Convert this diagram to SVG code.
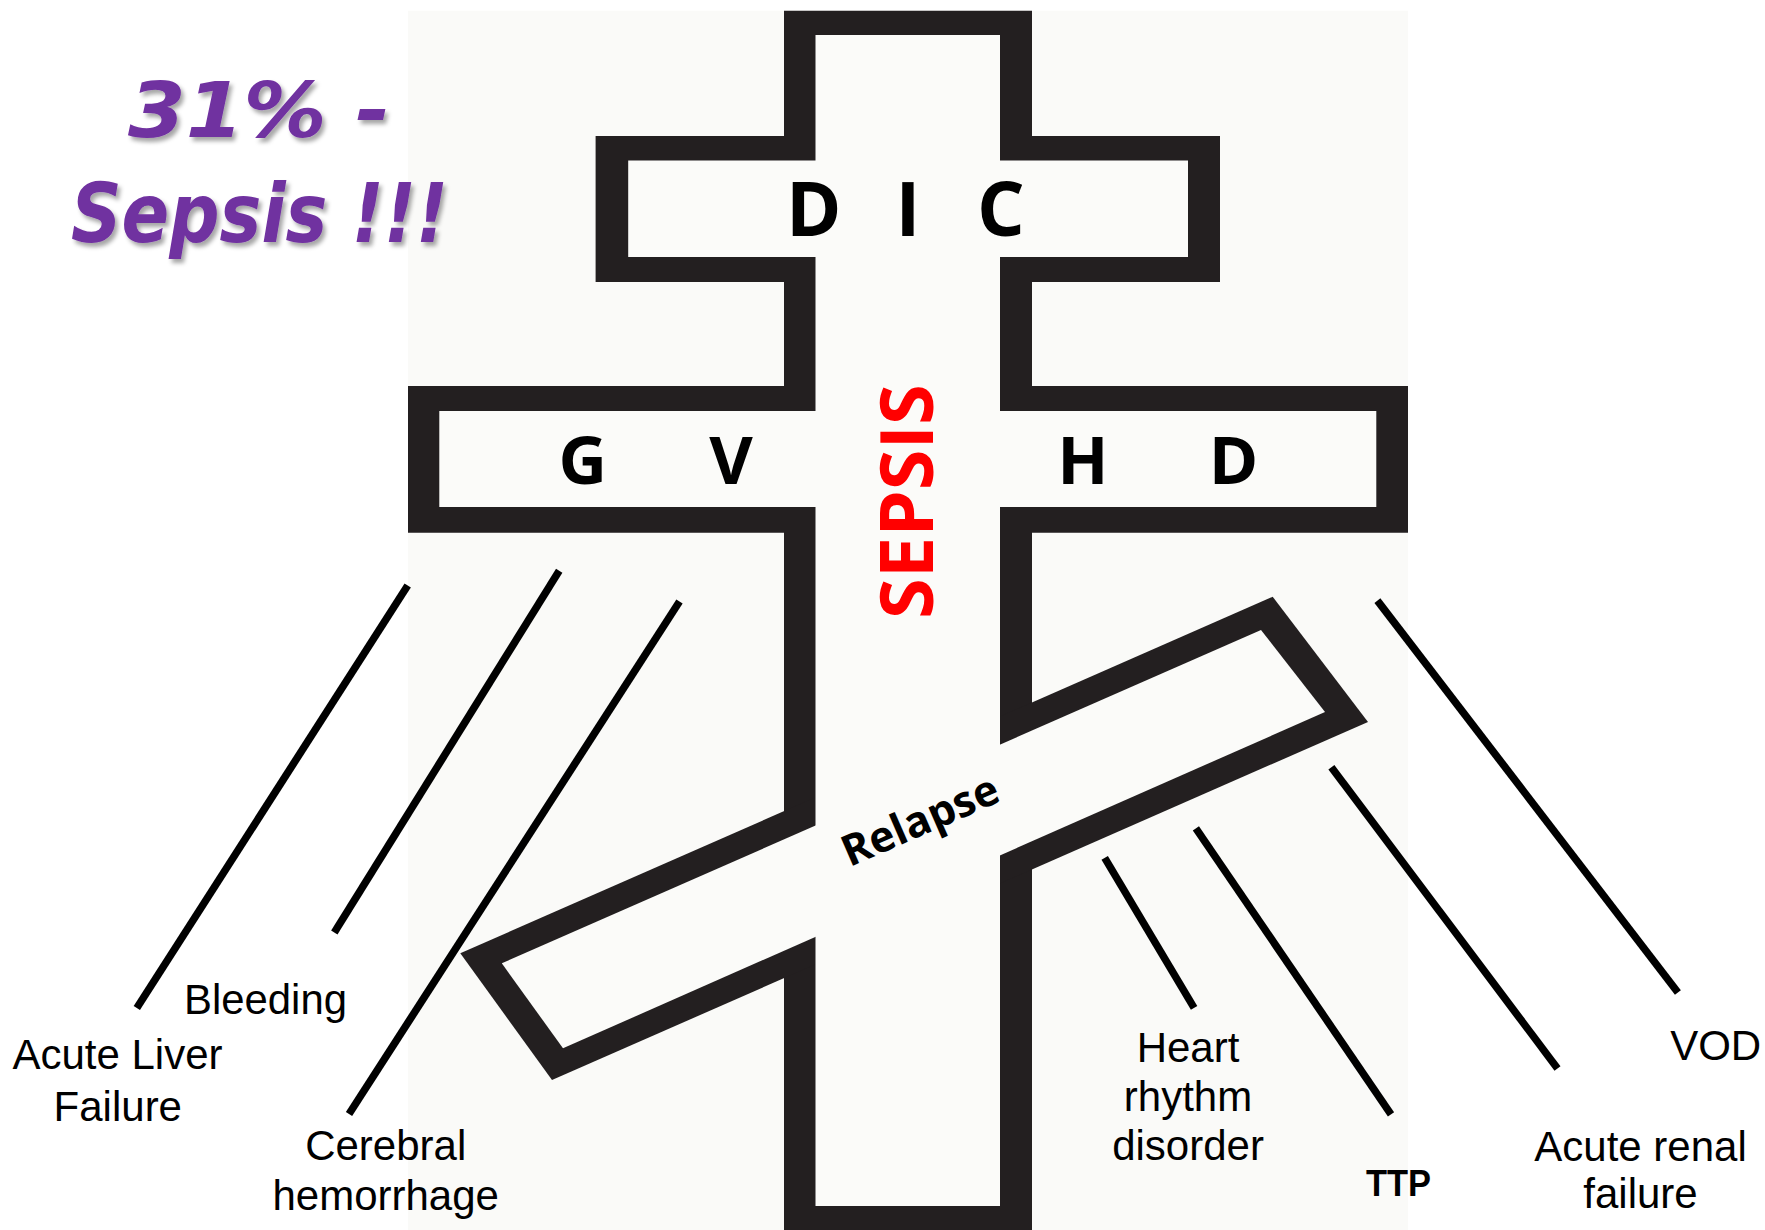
<svg xmlns="http://www.w3.org/2000/svg" width="1765" height="1230" viewBox="0 0 1765 1230">
  <style>
    .band { fill: #231f20; }
    .hollow { fill: #fbfbf9; }
    .big { font-family: "Open Sans", "Liberation Sans", sans-serif; font-weight: bold; fill: #000; text-anchor: middle; }
    .lbl { font-family: "Liberation Sans", Arial, sans-serif; font-size: 42px; fill: #000; text-anchor: middle; }
    .conn { stroke: #000; stroke-width: 7.5; fill: none; }
    .hand { font-family: "DejaVu Sans", sans-serif; font-weight: bold; font-style: italic; fill: #7030a0; }
  </style>
  <defs>
    <filter id="shadow" x="-10%" y="-10%" width="130%" height="140%">
      <feDropShadow dx="3" dy="4" stdDeviation="2" flood-color="#000" flood-opacity="0.35"/>
    </filter>
  </defs>
  <rect x="0" y="0" width="1765" height="1230" fill="#ffffff"/>
  <rect x="408" y="10.7" width="1000" height="1219.3" fill="#fafaf8"/>

  <g id="cross">
    <polygon class="band" points="784,10.7 1032,10.7 1032,136 1220,136 1220,282 1032,282 1032,386 1408,386 1408,532.7 1032,532.7 1032,1230 784,1230 784,532.7 408,532.7 408,386 784,386 784,282 595.6,282 595.6,136 784,136"/>
    <polygon class="band" points="460.3,953.3 1272.7,596.7 1368,722 552,1080"/>
    <polygon class="hollow" points="815.5,35 1000,35 1000,160.4 1188,160.4 1188,257 1000,257 1000,411 1376.3,411 1376.3,507 1000,507 1000,1206 815.5,1206 815.5,507 439.3,507 439.3,411 815.5,411 815.5,257 628.2,257 628.2,160.4 815.5,160.4"/>
    <polygon class="hollow" points="501.8,963.3 1261,630 1325,712 563,1048.3"/>
  </g>

  <g id="dic-label">
    <text class="big" font-size="75" x="813.7" y="236.4">D</text>
    <text class="big" font-size="75" x="908" y="236.4">I</text>
    <text class="big" font-size="75" x="1000.8" y="236.4">C</text>
  </g>
  <g id="gvhd-label">
    <text class="big" font-size="67" x="582.8" y="484">G</text>
    <text class="big" font-size="67" x="731" y="484">V</text>
    <text class="big" font-size="67" x="1083" y="484">H</text>
    <text class="big" font-size="67" x="1233.5" y="484">D</text>
  </g>
  <g id="sepsis-label">
    <text class="big" font-size="74" style="fill:#ff0000" transform="translate(933,501.7) rotate(-90)" x="0" y="0">SEPSIS</text>
  </g>
  <g id="relapse-label">
    <text class="big" font-size="43" transform="translate(926,834) rotate(-23.5)" x="0" y="0">Relapse</text>
  </g>

  <g id="note" filter="url(#shadow)">
    <text class="hand" font-size="76" x="128" y="137" textLength="262" lengthAdjust="spacingAndGlyphs">31% -</text>
    <text class="hand" font-size="82" x="71" y="242" textLength="377" lengthAdjust="spacingAndGlyphs">Sepsis !!!</text>
  </g>

  <g id="connectors">
    <line class="conn" x1="407.7" y1="585.6" x2="136.8" y2="1007.9"/>
    <line class="conn" x1="559.2" y1="570.7" x2="334.3" y2="932.6"/>
    <line class="conn" x1="679.5" y1="601.5" x2="349" y2="1114"/>
    <line class="conn" x1="1104.7" y1="857.9" x2="1194.1" y2="1007.9"/>
    <line class="conn" x1="1195.9" y1="828.4" x2="1391" y2="1114.3"/>
    <line class="conn" x1="1331.4" y1="767.3" x2="1557.5" y2="1068.5"/>
    <line class="conn" x1="1377.4" y1="600.6" x2="1677.9" y2="992.5"/>
  </g>

  <g id="acute-liver-failure">
    <text class="lbl" font-size="43" x="117.5" y="1069">Acute Liver</text>
    <text class="lbl" font-size="43" x="117.8" y="1120.5">Failure</text>
  </g>
  <g id="bleeding">
    <text class="lbl" font-size="37" x="184" y="1014" style="text-anchor:start" textLength="163" lengthAdjust="spacingAndGlyphs">Bleeding</text>
  </g>
  <g id="cerebral-hemorrhage">
    <text class="lbl" font-size="43" x="385.7" y="1160">Cerebral</text>
    <text class="lbl" font-size="43" x="385.7" y="1210">hemorrhage</text>
  </g>
  <g id="heart-rhythm-disorder">
    <text class="lbl" x="1188" y="1061.7">Heart</text>
    <text class="lbl" x="1188" y="1111">rhythm</text>
    <text class="lbl" x="1188" y="1160">disorder</text>
  </g>
  <g id="ttp">
    <text x="1366" y="1195.5" font-family="Liberation Sans, Arial, sans-serif" font-weight="bold" font-size="36" textLength="65" lengthAdjust="spacingAndGlyphs">TTP</text>
  </g>
  <g id="acute-renal-failure">
    <text class="lbl" font-size="43" x="1640.5" y="1161">Acute renal</text>
    <text class="lbl" font-size="43" x="1640.5" y="1208">failure</text>
  </g>
  <g id="vod">
    <text class="lbl" font-size="41" x="1715.7" y="1060">VOD</text>
  </g>
</svg>
